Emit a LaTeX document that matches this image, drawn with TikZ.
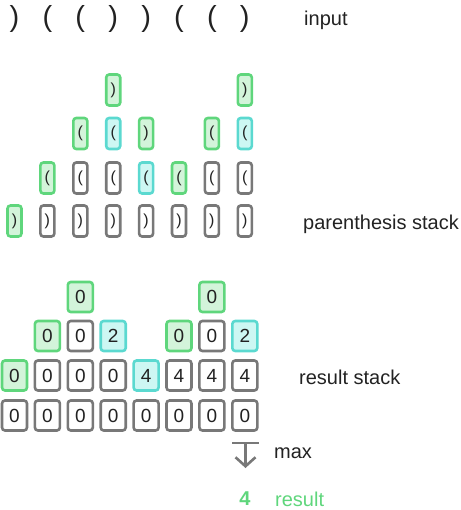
\documentclass[tikz,border=0pt]{standalone}
\usepackage{fontspec}
\setmainfont{Liberation Sans}
\usetikzlibrary{arrows.meta}
\definecolor{gbord}{HTML}{5FD67C}
\definecolor{gfill}{HTML}{D3F4DA}
\definecolor{cbord}{HTML}{5BD9D0}
\definecolor{cfill}{HTML}{CDF7F3}
\definecolor{gray1}{HTML}{787878}
\definecolor{txt}{HTML}{222222}
\definecolor{gtxt}{HTML}{5FD67C}
\tikzset{
  x=1pt,y=-1pt,
  pbox/.style={draw=gray1,fill=white,line width=2.6pt,rounded corners=3pt,minimum width=14pt,minimum height=31pt,inner sep=0pt,font=\fontsize{16}{16}\selectfont,text=txt},
  rbox/.style={draw=gray1,fill=white,line width=2.6pt,rounded corners=3pt,minimum width=25pt,minimum height=30pt,inner sep=0pt,font=\fontsize{19}{19}\selectfont,text=txt},
  gr/.style={draw=gbord,fill=gfill},
  cy/.style={draw=cbord,fill=cfill},
  lbl/.style={anchor=west,inner sep=0pt,font=\fontsize{20}{20}\selectfont,text=txt},
  inp/.style={inner sep=0pt,font=\fontsize{29}{29}\selectfont,text=txt},
}
\begin{document}
\begin{tikzpicture}
\useasboundingbox (0,0) rectangle (460,510);
% input
\foreach \i/\c in {0/),1/(,2/(,3/),4/),5/(,6/(,7/)}{
  \node[inp] (in\i) at ({14.5+32.9*\i},19) {\c};
}
\node[lbl] (linput) at (304,20) {input};
% parenthesis stack
\node[pbox,gr] (p00) at (14.5,221) {)};
\foreach \i in {1,...,7}{\node[pbox] (p0\i) at ({14.5+32.9*\i},221) {)};}
\node[pbox,gr] (p11) at ({14.5+32.9*1},178) {(};
\node[pbox] (p12) at ({14.5+32.9*2},178) {(};
\node[pbox] (p13) at ({14.5+32.9*3},178) {(};
\node[pbox,cy] (p14) at ({14.5+32.9*4},178) {(};
\node[pbox,gr] (p15) at ({14.5+32.9*5},178) {(};
\node[pbox] (p16) at ({14.5+32.9*6},178) {(};
\node[pbox] (p17) at ({14.5+32.9*7},178) {(};
\node[pbox,gr] (p22) at ({14.5+32.9*2},133.5) {(};
\node[pbox,cy] (p23) at ({14.5+32.9*3},133.5) {(};
\node[pbox,gr] (p24) at ({14.5+32.9*4},133.5) {)};
\node[pbox,gr] (p26) at ({14.5+32.9*6},133.5) {(};
\node[pbox,cy] (p27) at ({14.5+32.9*7},133.5) {(};
\node[pbox,gr] (p33) at ({14.5+32.9*3},90) {)};
\node[pbox,gr] (p37) at ({14.5+32.9*7},90) {)};
\node[lbl] (lps) at (303,224) {parenthesis stack};
% result stack
\foreach \i in {0,...,7}{\node[rbox] (r0\i) at ({14.5+32.9*\i},415.5) {0};}
\node[rbox,gr] (r10) at (14.5,375.5) {0};
\foreach \i in {1,2,3}{\node[rbox] (r1\i) at ({14.5+32.9*\i},375.5) {0};}
\node[rbox,cy] (r14) at ({14.5+32.9*4},375.5) {4};
\foreach \i in {5,6,7}{\node[rbox] (r1\i) at ({14.5+32.9*\i},375.5) {4};}
\node[rbox,gr] (r21) at ({14.5+32.9*1},336) {0};
\node[rbox] (r22) at ({14.5+32.9*2},336) {0};
\node[rbox,cy] (r23) at ({14.5+32.9*3},336) {2};
\node[rbox,gr] (r25) at ({14.5+32.9*5},336) {0};
\node[rbox] (r26) at ({14.5+32.9*6},336) {0};
\node[rbox,cy] (r27) at ({14.5+32.9*7},336) {2};
\node[rbox,gr] (r32) at ({14.5+32.9*2},297) {0};
\node[rbox,gr] (r36) at ({14.5+32.9*6},297) {0};
\node[lbl] (lrs) at (299,377) {result stack};
% max arrow
\coordinate (mtop) at (245.5,443);
\coordinate (mbot) at (245.5,468);
\draw[gray1,line width=2.6pt] (232,443) -- (259,443);
\draw[gray1,line width=2.6pt,-{Straight Barb[length=9pt,width=20pt,line width=2.6pt]}] (mtop) -- (mbot);
\node[lbl] (lmax) at (274,453) {max};
\node[inner sep=0pt,font=\fontsize{20}{20}\selectfont\bfseries,text=gtxt] (res) at (245,499) {4};
\node[lbl,text=gtxt] (lres) at (275,499) {result};
\end{tikzpicture}
\end{document}
